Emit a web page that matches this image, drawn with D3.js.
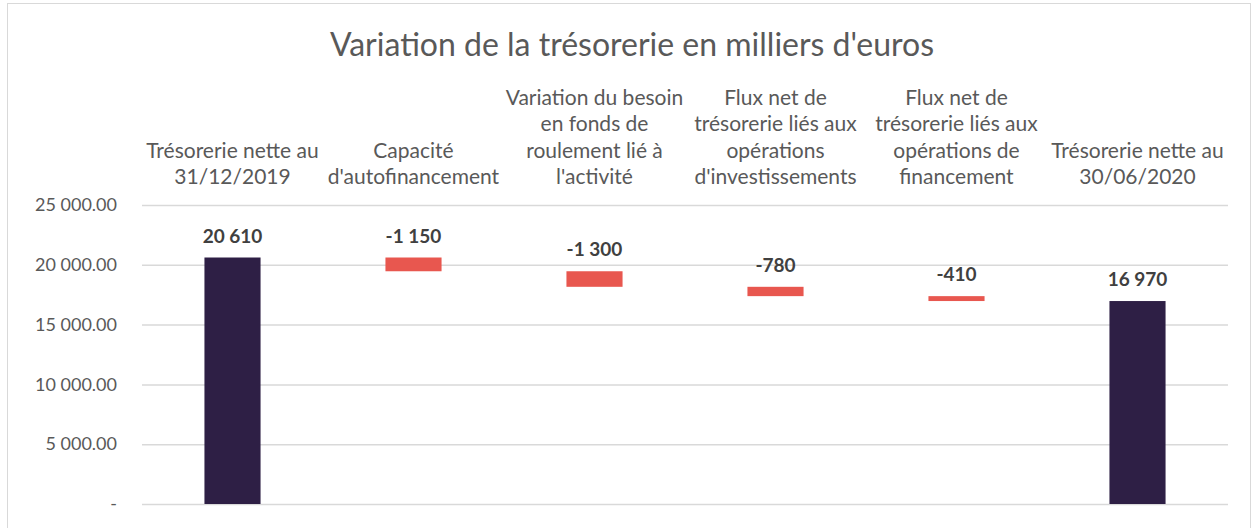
<!DOCTYPE html>
<html>
<head>
<meta charset="utf-8">
<script src="https://cdn.jsdelivr.net/npm/d3@7"></script>
<style>
  body { margin: 0; background: #fff; }
  text { font-family: Lato, "Open Sans", sans-serif; }
</style>
</head>
<body>
<svg id="chart" width="1253" height="528"></svg>
<script>
const categories = [
    ["Trésorerie nette au", "31/12/2019"],
    ["Capacité", "d'autofinancement"],
    ["Variation du besoin", "en fonds de", "roulement lié à", "l'activité"],
    ["Flux net de", "trésorerie liés aux", "opérations", "d'investissements"],
    ["Flux net de", "trésorerie liés aux", "opérations de", "financement"],
    ["Trésorerie nette au", "30/06/2020"]
]
const values = [20610, -1150, -1300, -780, -410, 16970]
const isTotal = [true, false, false, false, false, true]
const yTicks = [0, 5000, 10000, 15000, 20000, 25000]
const title = "Variation de la trésorerie en milliers d'euros"

const svg = d3.select("#chart")
const width = +svg.attr('width')
const height = +svg.attr('height')

// frame
svg.append('rect')
    .attr('x', 7.5).attr('y', 3.5)
    .attr('width', width - 10).attr('height', height - 3)
    .attr('fill', 'none')
    .attr('stroke', '#d9d9d9')

const margin = { top: 205, right: 25, bottom: 24, left: 142 }

// waterfall steps
let running = 0
const steps = values.map((v, i) => {
    let start, end
    if (isTotal[i]) { start = 0; end = v; running = v }
    else { start = running; end = running + v; running = end }
    return { key: i, value: v, lo: Math.min(start, end), hi: Math.max(start, end), total: isTotal[i] }
})

const xScale = d3.scaleBand()
    .domain(d3.range(categories.length))
    .range([margin.left, width - margin.right])
    .paddingInner(0.69)
    .paddingOuter(0.345)

const yScale = d3.scaleLinear()
    .domain([0, 25000])
    .range([height - margin.bottom, margin.top])

const fmt = d => d === 0 ? '-' : d3.format(',.2f')(d).replace(/,/g, ' ')

const yAxis = d3.axisLeft(yScale)
    .tickValues(yTicks)
    .tickSize(-(width - margin.right - margin.left))
    .tickPadding(25)
    .tickFormat(fmt)

const yAxisG = svg.append('g')
    .attr('transform', `translate(${margin.left},0)`)
    .call(yAxis)
yAxisG.select('.domain').remove()
yAxisG.selectAll('.tick line').attr('stroke', '#d9d9d9').attr('stroke-width', 1.5)
yAxisG.selectAll('.tick text')
    .attr('fill', '#595959')
    .style('font-size', '18px')

svg.append('g').selectAll('rect')
    .data(steps)
    .enter()
    .append('rect')
    .attr('x', d => xScale(d.key))
    .attr('width', xScale.bandwidth())
    .attr('y', d => yScale(d.hi))
    .attr('height', d => yScale(d.lo) - yScale(d.hi))
    .attr('fill', d => d.total ? '#2e1f45' : '#e8574f')

const numFmt = v => d3.format(',')(v).replace(/,/g, ' ').replace('−', '-')

svg.append('g').selectAll('text')
    .data(steps)
    .enter()
    .append('text')
    .attr('x', d => xScale(d.key) + xScale.bandwidth() / 2)
    .attr('y', d => yScale(d.hi) - 15)
    .attr('text-anchor', 'middle')
    .attr('fill', '#404040')
    .style('font-size', '19px')
    .style('font-weight', 'bold')
    .text(d => numFmt(d.value))

// category labels above the plot
const catG = svg.append('g')
categories.forEach((lines, i) => {
    const t = catG.append('text')
        .attr('x', xScale(i) + xScale.bandwidth() / 2)
        .attr('text-anchor', 'middle')
        .attr('fill', '#595959')
        .style('font-size', '21px')
    lines.forEach((line, j) => {
        t.append('tspan')
            .attr('x', xScale(i) + xScale.bandwidth() / 2)
            .attr('y', 184 - (lines.length - 1 - j) * 26.5)
            .text(line)
    })
})

svg.append('text')
    .attr('x', 632)
    .attr('y', 56)
    .attr('text-anchor', 'middle')
    .attr('fill', '#595959')
    .style('font-size', '32px')
    .text(title)
</script>
</body>
</html>
